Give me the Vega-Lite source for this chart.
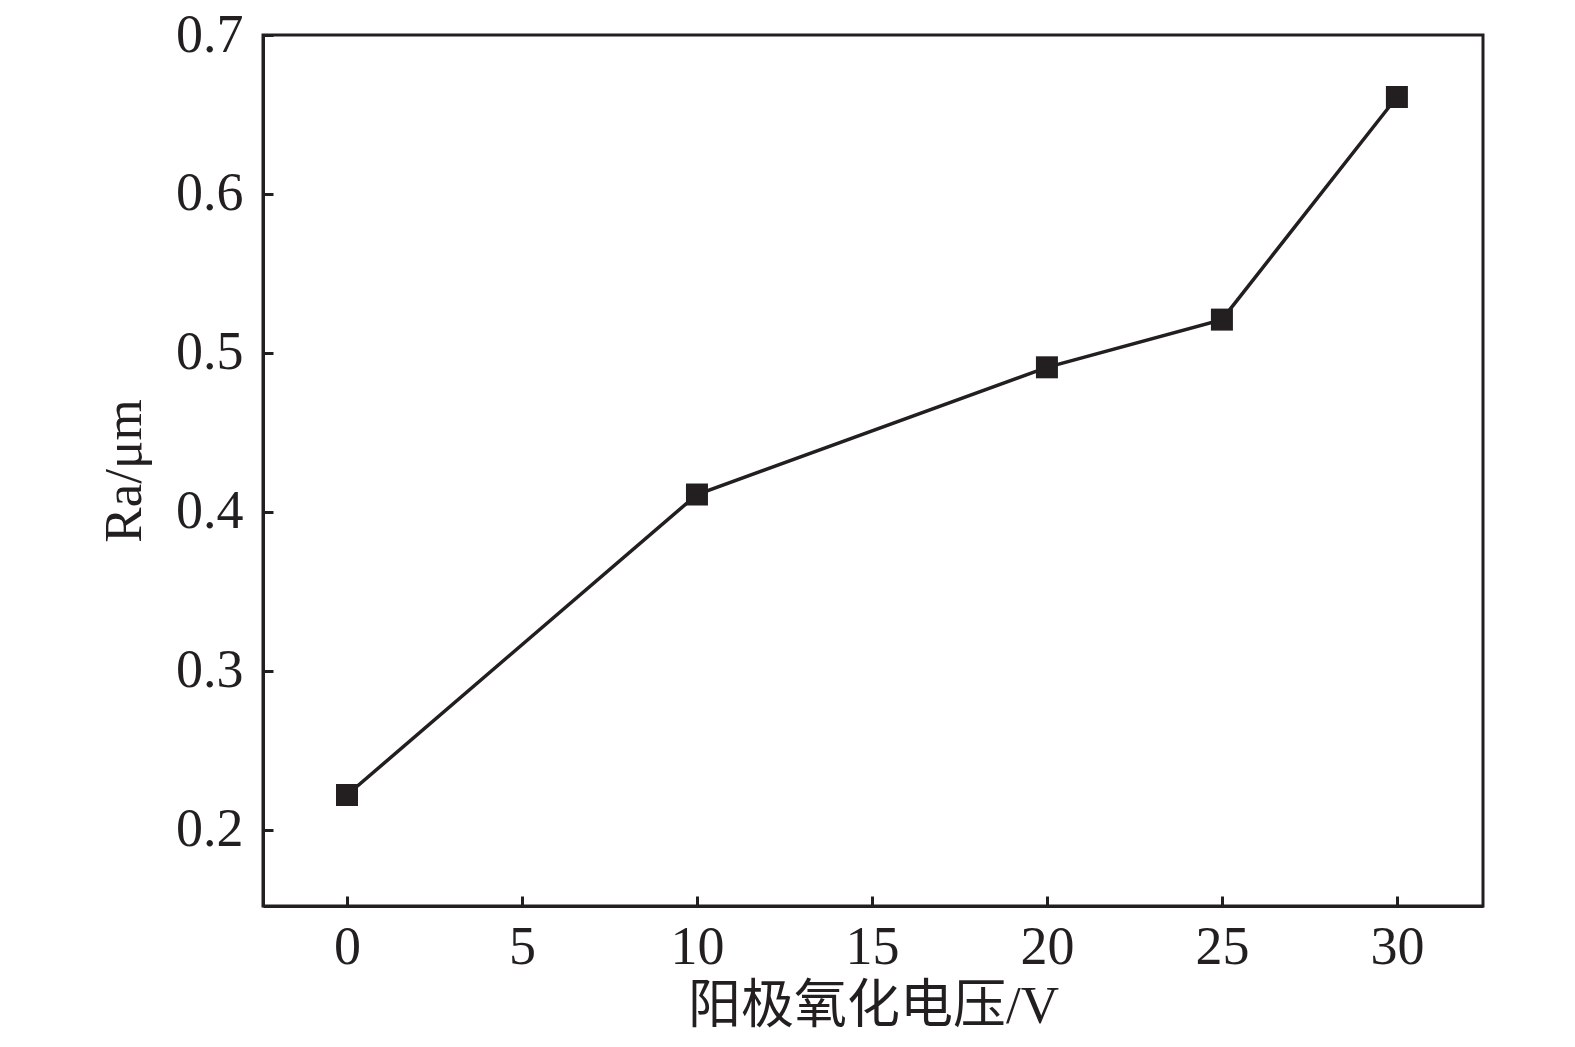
{
  "$schema": "https://vega.github.io/schema/vega-lite/v6.json",
  "autosize": "none",
  "width": 1220,
  "height": 871,
  "padding": {"left": 263, "top": 35, "right": 92, "bottom": 141},
  "background": "white",
  "config": {
    "view": {"stroke": "#231f20", "strokeWidth": 3},
    "axis": {
      "labelFont": "Liberation Serif",
      "labelFontSize": 54,
      "labelColor": "#231f20",
      "titleFont": "Liberation Serif, Noto Sans CJK SC",
      "titleFontSize": 53,
      "titleFontWeight": "normal",
      "titleColor": "#231f20",
      "domainColor": "#231f20",
      "domainWidth": 3,
      "tickColor": "#231f20",
      "tickWidth": 3,
      "tickSize": -10,
      "grid": false
    }
  },
  "data": {
    "values": [
      {"voltage": 0, "ra": 0.222},
      {"voltage": 10, "ra": 0.411},
      {"voltage": 20, "ra": 0.491},
      {"voltage": 25, "ra": 0.521},
      {"voltage": 30, "ra": 0.661}
    ]
  },
  "encoding": {
    "x": {
      "field": "voltage",
      "type": "quantitative",
      "scale": {"domain": [-2.4, 32.46], "nice": false, "zero": false},
      "axis": {"values": [0, 5, 10, 15, 20, 25, 30], "title": "阳极氧化电压/V", "labelPadding": 24, "titlePadding": 6, "labelFlush": false}
    },
    "y": {
      "field": "ra",
      "type": "quantitative",
      "scale": {"domain": [0.1522, 0.7], "nice": false, "zero": false},
      "axis": {"values": [0.2, 0.3, 0.4, 0.5, 0.6, 0.7], "format": ".1f", "title": "Ra/μm", "labelPadding": 30, "titlePadding": 24, "labelFlush": false}
    }
  },
  "layer": [
    {"mark": {"type": "line", "color": "#231f20", "strokeWidth": 3.5}},
    {"mark": {"type": "point", "shape": "square", "filled": true, "color": "#231f20", "opacity": 1, "size": 484}}
  ]
}
